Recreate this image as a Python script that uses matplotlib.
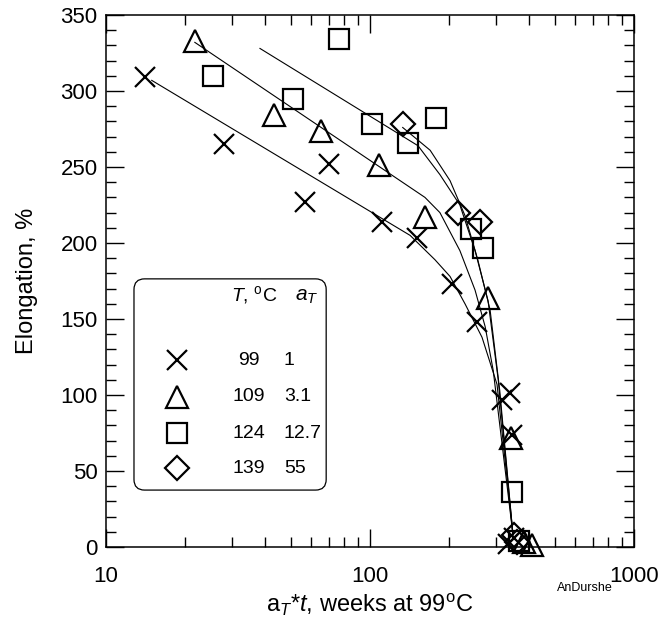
import numpy as np
import matplotlib
matplotlib.use('Agg')
import matplotlib.pyplot as plt
from matplotlib.patches import FancyBboxPatch

plt.rcParams['font.family'] = ['Liberation Sans', 'DejaVu Sans']
plt.rcParams['mathtext.fontset'] = 'custom'
plt.rcParams['mathtext.rm'] = 'Liberation Sans'
plt.rcParams['mathtext.it'] = 'Liberation Sans:italic'

# aged elongation data, time already shifted to 99 C (weeks)
t_99 = [14.1, 28.0, 56.7, 70.0, 111, 151, 205, 254, 316, 339, 345, 333, 350]
e_99 = [309, 265, 227, 252, 214, 203, 173, 148, 97, 101, 74, 2, 6]
t_109 = [21.7, 43.3, 65.2, 108, 161.5, 280, 342, 410, 382]
e_109 = [333, 284, 274, 251, 217, 164, 72, 1, 3]
t_124 = [25.4, 51, 76.4, 101.8, 139, 178, 241, 268, 345, 366]
e_124 = [310, 295, 334, 278, 266, 282, 209, 197, 36, 4]
t_139 = [133, 216, 261, 352, 360]
e_139 = [278, 220, 214, 8, 3]

# fitted curves for each temperature
fit_t_99 = [14.9, 141.9, 176.2, 201, 229, 265.6, 302.8, 348]
fit_e_99 = [307, 205, 189, 178, 160, 138, 107, 8]
fit_t_109 = [21.7, 161.5, 184, 219, 250, 273, 293, 348]
fit_e_109 = [332, 230, 220, 195, 169, 145, 116, 8]
fit_t_124 = [38.3, 152, 184, 219, 250, 280, 306, 348]
fit_e_124 = [328, 264, 245, 225, 195, 162, 110, 8]
fit_t_139 = [133, 169, 201, 229, 256, 285, 310, 348]
fit_e_139 = [276, 261, 241, 218, 189, 156, 103, 8]

temps = ['99', '109', '124', '139']
shift = ['1', '3.1', '12.7', '55']
markers = ['x', '^', 's', 'D']
msizes = [15, 16, 14.5, 12]

series = [(t_99, e_99), (t_109, e_109), (t_124, e_124), (t_139, e_139)]
fits = [(fit_t_99, fit_e_99), (fit_t_109, fit_e_109),
        (fit_t_124, fit_e_124), (fit_t_139, fit_e_139)]

fig = plt.figure(figsize=(6.6, 6.28), dpi=100)
ax = fig.add_axes([106/660, 81/628, 528/660, 532/628])

for (ft, fe) in fits:
    ax.plot(ft, fe, color='black', lw=0.8, zorder=2)

for (t, e), m, ms in zip(series, markers, msizes):
    ax.plot(t, e, linestyle='none', marker=m, ms=ms, mfc='none',
            mec='black', mew=1.6, zorder=3, clip_on=False)

ax.set_xscale('log')
ax.set_xlim(10, 1000)
ax.set_ylim(0, 350)
ax.set_yticks(np.arange(0, 351, 50))
ax.set_yticks(np.arange(0, 351, 10), minor=True)
ax.set_xticks([10, 100, 1000])
ax.set_xticklabels(['10', '100', '1000'])
ax.tick_params(which='both', direction='in', top=True, right=True,
               labelsize=16, width=1.0)
ax.tick_params(axis='x', pad=14)
ax.tick_params(axis='y', pad=6)
ax.tick_params(which='major', length=13)
ax.tick_params(which='minor', length=7)
for sp in ax.spines.values():
    sp.set_linewidth(1.1)

ax.set_ylabel('Elongation, %', fontsize=17, labelpad=16)
ax.set_xlabel(r'a$_{\it T}$*$\it t$, weeks at 99$^{\rm o}$C', fontsize=17,
              labelpad=3)
fig.text(585/660, 1 - 588/628, 'AnDurshe', fontsize=9, ha='center',
         va='center')

# legend table in a rounded box
box = FancyBboxPatch((0.053 + 0.02, 0.107 + 0.02), 0.364 - 0.04,
                     0.397 - 0.04, boxstyle='round,pad=0.02',
                     transform=ax.transAxes, fc='white', ec='black',
                     lw=0.9, zorder=4)
ax.add_patch(box)
ax.text(0.28, 0.474, r'$\it T$, $^{\rm o}$C', transform=ax.transAxes,
        ha='center', va='center', fontsize=14, zorder=5)
ax.text(0.381, 0.47, r'$\it a_{T}$', transform=ax.transAxes,
        ha='center', va='center', fontsize=15, zorder=5)
rows_y = [0.3515, 0.282, 0.214, 0.148]
for yy, m, ms, tc, a in zip(rows_y, markers, msizes, temps, shift):
    ax.plot([0.134], [yy], transform=ax.transAxes, marker=m, ms=ms,
            mfc='none', mec='black', mew=1.6, linestyle='none', zorder=5)
    ax.text(0.27, yy, tc, transform=ax.transAxes, ha='center', va='center',
            fontsize=14, zorder=5)
    ax.text(0.337, yy, a, transform=ax.transAxes, ha='left', va='center',
            fontsize=14, zorder=5)

fig.savefig('out.png', dpi=100)
